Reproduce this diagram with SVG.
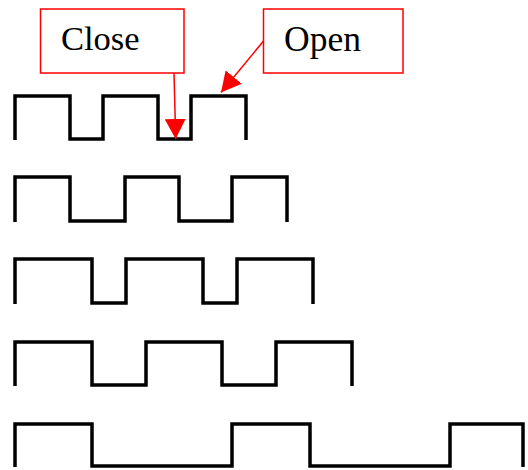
<svg xmlns="http://www.w3.org/2000/svg" width="528" height="470" viewBox="0 0 528 470">
<style>
.wave{fill:none;stroke:#000;stroke-width:3.5;stroke-linejoin:miter;stroke-linecap:butt}
.box{fill:#fff;stroke:#ff0000;stroke-width:1.5}
.lbl{font-family:"Liberation Serif","Times New Roman",serif;font-size:34.5px;fill:#000}
.conn{fill:none;stroke:#ff0000;stroke-width:1.5}
</style>
<defs>
<marker id="arr" viewBox="0 0 20 21" refX="20" refY="10.5" markerWidth="20" markerHeight="21" markerUnits="userSpaceOnUse" orient="auto">
<path d="M0,0 L20,10.5 L0,21 Z" fill="#ff0000"/>
</marker>
</defs>
<g id="wave1"><path class="wave" d="M15,140 V96 H70 V139 H103 V96 H158 V139 H191 V96 H246 V140"/></g>
<g id="wave2"><path class="wave" d="M15,222 V177 H70 V221 H125 V177 H179 V221 H232 V177 H287 V222"/></g>
<g id="wave3"><path class="wave" d="M15,304 V259 H92 V303 H126 V259 H203 V303 H237 V259 H313 V304"/></g>
<g id="wave4"><path class="wave" d="M15,386 V342 H92 V385 H146 V342 H222 V385 H276 V342 H352 V386"/></g>
<g id="wave5"><path class="wave" d="M15,467 V424 H92 V466 H232 V424 H310 V466 H450 V424 H523 V467"/></g>
<g id="close"><rect class="box" x="40.5" y="9" width="143.5" height="64"/><text class="lbl" x="61" y="50">Close</text></g>
<g id="open"><rect class="box" x="263.5" y="9" width="139.5" height="64"/><text class="lbl" x="284" y="51" style="font-size:35.5px">Open</text></g>
<g id="connectors">
<line class="conn" x1="174" y1="73" x2="175.7" y2="139" marker-end="url(#arr)"/>
<line class="conn" x1="263.5" y1="41" x2="221" y2="92.5" marker-end="url(#arr)"/>
</g>
</svg>
